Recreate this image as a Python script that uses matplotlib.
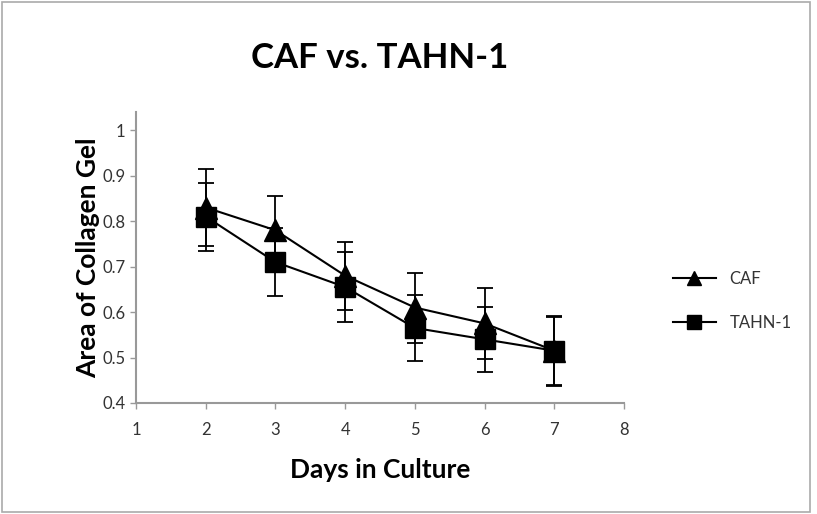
import matplotlib
matplotlib.use('Agg')
import matplotlib.pyplot as plt
from matplotlib.patches import Rectangle
from matplotlib.lines import Line2D

plt.rcParams['font.family'] = ['Lato', 'DejaVu Sans']

days = [2, 3, 4, 5, 6, 7]
caf = [0.83, 0.78, 0.68, 0.61, 0.575, 0.515]
caf_err = [0.085, 0.075, 0.075, 0.077, 0.078, 0.077]
tahn = [0.81, 0.71, 0.655, 0.565, 0.54, 0.515]
tahn_err = [0.075, 0.075, 0.077, 0.073, 0.072, 0.075]

fig = plt.figure(figsize=(8.17, 5.14), dpi=100)
ax = fig.add_axes([0.1665, 0.216, 0.5973, 0.566])

ax.errorbar(days, caf, yerr=caf_err, color='black', marker='^', markersize=16,
            linewidth=1.5, elinewidth=1.3, capsize=6, capthick=1.3)
ax.errorbar(days, tahn, yerr=tahn_err, color='black', marker='s', markersize=15,
            linewidth=1.5, elinewidth=1.3, capsize=6, capthick=1.3)

ax.set_xlim(1, 8)
ax.set_ylim(0.4, 1.04)
ax.set_xticks(range(1, 9))
ax.set_yticks([0.4, 0.5, 0.6, 0.7, 0.8, 0.9, 1.0])
ax.set_yticklabels(['0.4', '0.5', '0.6', '0.7', '0.8', '0.9', '1'])
for s in ['top', 'right']:
    ax.spines[s].set_visible(False)
for s in ['left', 'bottom']:
    ax.spines[s].set_color('#999999')
    ax.spines[s].set_linewidth(1.5)
ax.tick_params(colors='#999999', labelcolor='#333333', labelsize=12, length=4, width=1)
ax.tick_params(axis='x', pad=10)

ax.set_title('CAF vs. TAHN-1', fontsize=25, fontweight='bold', pad=32)
ax.set_xlabel('Days in Culture', fontsize=19, fontweight='bold', labelpad=14)
ax.set_ylabel('Area of Collagen Gel', fontsize=19, fontweight='bold', labelpad=2)

handles = [Line2D([], [], color='black', marker='^', markersize=10, linewidth=1.5),
           Line2D([], [], color='black', marker='s', markersize=10, linewidth=1.5)]
leg = fig.legend(handles, ['CAF', 'TAHN-1'], loc='center left', bbox_to_anchor=(0.805, 0.415),
                 frameon=False, fontsize=12, handlelength=2.6, labelspacing=1.7)
for t in leg.get_texts():
    t.set_color('#333333')

fig.patches.append(Rectangle((0.002, 0.003), 0.99, 0.994, transform=fig.transFigure,
                             fill=False, edgecolor='#aaaaaa', linewidth=1.2))

fig.savefig('out.png', dpi=100)
